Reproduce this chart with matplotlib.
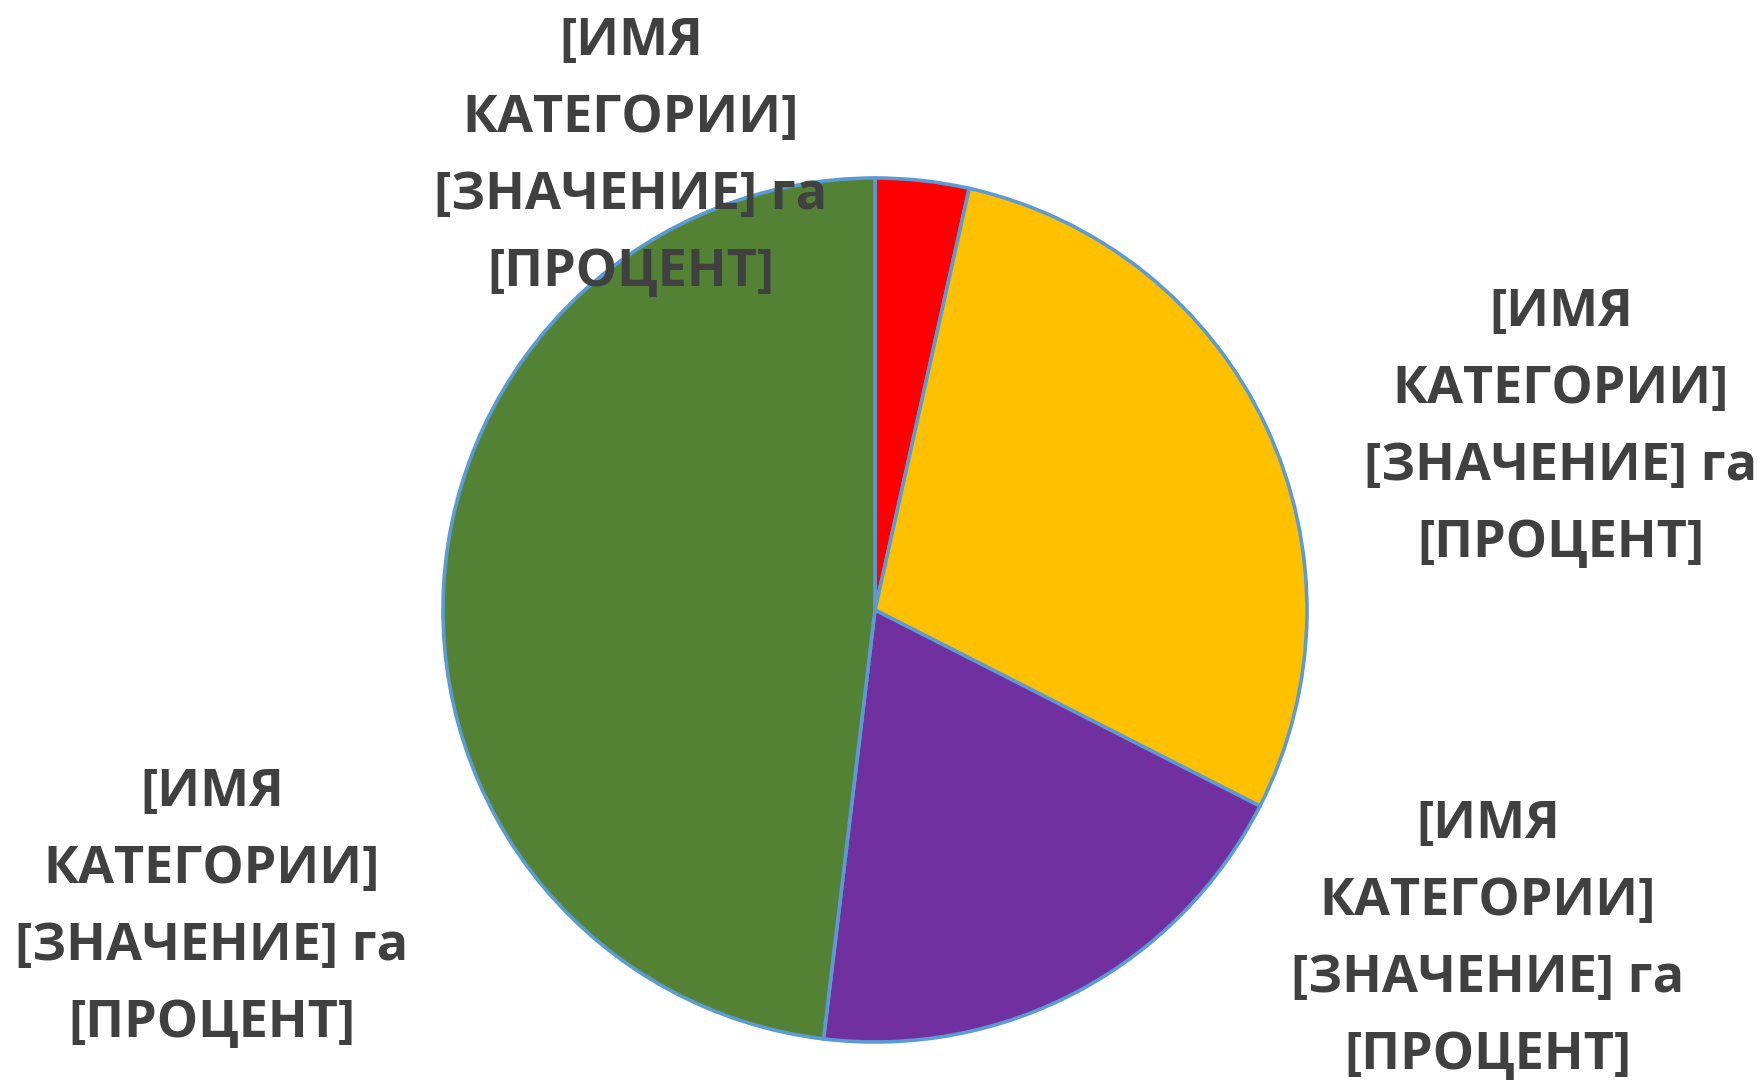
import matplotlib.pyplot as plt

# slice shares, clockwise from 12 o'clock
shares = [3.5, 29.0, 19.4, 48.1]
colors = ["#FF0000", "#FFC000", "#7030A0", "#548235"]
label = "[ИМЯ\nКАТЕГОРИИ]\n[ЗНАЧЕНИЕ] га\n[ПРОЦЕНТ]"
# label centres (pixels, y measured from the bottom)
label_x = [631, 1561, 1488, 212]
label_y = [1084 - 157, 1084 - 428, 1084 - 940, 1084 - 908]

plt.rcParams['font.family'] = ['Open Sans', 'DejaVu Sans']

fig = plt.figure(figsize=(17.65, 10.84), dpi=100)
ax = fig.add_axes([0, 0, 1, 1])

ax.pie(shares, colors=colors, startangle=90, counterclock=False,
       center=(875, 1084 - 610), radius=432,
       wedgeprops=dict(edgecolor="#5B9BD5", linewidth=2.6))

for x, y in zip(label_x, label_y):
    ax.text(x, y, label, ha='center', va='center', multialignment='center',
            fontsize=37.5, fontweight='bold', color='#404040', linespacing=1.6)

ax.set_xlim(0, 1765)
ax.set_ylim(0, 1084)
ax.set_aspect('equal')
ax.axis('off')

fig.savefig("out.png", dpi=100)
